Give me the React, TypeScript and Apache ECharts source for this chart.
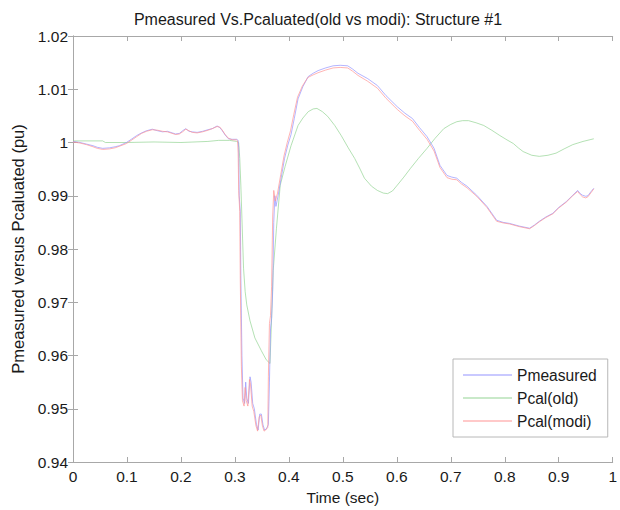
import React, { useEffect, useRef } from "react";
import * as echarts from "echarts";

const titleText = "Pmeasured Vs.Pcaluated(old vs modi): Structure #1";
const xName = "Time (sec)";
const yName = "Pmeasured versus Pcaluated (pu)";
const seriesNames = ["Pmeasured", "Pcal(old)", "Pcal(modi)"];
const seriesColors = ["#9494ff", "#94d494", "#ff9494"];

const measured: [number, number][] = [
  [0, 1.0002], [0.013, 1.0], [0.025, 0.9997], [0.037, 0.9994], [0.045, 0.9991], [0.055, 0.9989],
  [0.068, 0.999], [0.078, 0.9992], [0.086, 0.9994], [0.099, 1.0], [0.108, 1.0006], [0.118, 1.0013],
  [0.127, 1.0018], [0.136, 1.0022], [0.147, 1.0025], [0.157, 1.0022], [0.166, 1.002], [0.175, 1.0021],
  [0.19, 1.0016], [0.197, 1.0017], [0.203, 1.0022], [0.209, 1.0026], [0.215, 1.0021], [0.221, 1.002],
  [0.23, 1.0019], [0.24, 1.0021], [0.25, 1.0024], [0.258, 1.0026], [0.267, 1.0031], [0.272, 1.0028],
  [0.276, 1.0023], [0.282, 1.0014], [0.288, 1.0007], [0.295, 1.0006], [0.303, 1.0006], [0.306, 1.0004],
  [0.307, 0.999], [0.308, 0.99], [0.31, 0.987], [0.311, 0.975], [0.313, 0.96], [0.315, 0.952],
  [0.318, 0.951], [0.32, 0.955], [0.322, 0.952], [0.325, 0.951], [0.328, 0.956], [0.33, 0.955],
  [0.333, 0.951], [0.336, 0.95], [0.34, 0.947], [0.343, 0.946], [0.346, 0.949], [0.349, 0.949],
  [0.352, 0.947], [0.355, 0.946], [0.358, 0.9462], [0.362, 0.947], [0.364, 0.955], [0.366, 0.965],
  [0.368, 0.967], [0.37, 0.972], [0.372, 0.985], [0.374, 0.99], [0.376, 0.988], [0.38, 0.99],
  [0.386, 0.9935], [0.392, 0.997], [0.398, 0.9995], [0.404, 1.0015], [0.41, 1.0045], [0.417, 1.0082],
  [0.426, 1.0105], [0.436, 1.0124], [0.445, 1.013], [0.454, 1.0135], [0.468, 1.014], [0.482, 1.0144],
  [0.495, 1.0145], [0.509, 1.0144], [0.518, 1.0138], [0.528, 1.013], [0.546, 1.012], [0.564, 1.0107],
  [0.58, 1.0088], [0.595, 1.0073], [0.601, 1.0067], [0.615, 1.0055], [0.629, 1.0045], [0.642, 1.0028],
  [0.656, 1.0011], [0.669, 0.9989], [0.68, 0.9957], [0.693, 0.9938], [0.702, 0.9935], [0.711, 0.9933],
  [0.72, 0.9925], [0.73, 0.9918], [0.748, 0.9901], [0.767, 0.988], [0.785, 0.9854], [0.797, 0.985],
  [0.809, 0.9848], [0.827, 0.9843], [0.846, 0.9839], [0.855, 0.9845], [0.864, 0.9852], [0.876, 0.986],
  [0.889, 0.9867], [0.9, 0.9878], [0.914, 0.9889], [0.925, 0.99], [0.935, 0.991], [0.94, 0.9904],
  [0.944, 0.9901], [0.95, 0.9899], [0.954, 0.99], [0.96, 0.9908], [0.965, 0.9914],
];

const calOld: [number, number][] = [
  [0, 1.0003], [0.055, 1.0003], [0.06, 1.0], [0.1, 1.0], [0.15, 1.0001], [0.2, 1.0], [0.25, 1.0002],
  [0.27, 1.0004], [0.29, 1.0004], [0.303, 1.0002], [0.307, 1.0], [0.309, 0.997], [0.311, 0.992],
  [0.313, 0.9858], [0.316, 0.9764], [0.319, 0.972], [0.322, 0.9695], [0.328, 0.9665], [0.337, 0.9633],
  [0.349, 0.9609], [0.358, 0.9592], [0.365, 0.9585], [0.368, 0.967], [0.371, 0.976], [0.377, 0.9839],
  [0.384, 0.992], [0.393, 0.9955], [0.404, 0.9994], [0.417, 1.0032], [0.426, 1.0046], [0.436, 1.0058],
  [0.445, 1.0063], [0.452, 1.0064], [0.462, 1.0058], [0.472, 1.0049], [0.485, 1.0032], [0.497, 1.0013],
  [0.51, 0.999], [0.522, 0.997], [0.532, 0.995], [0.54, 0.9933], [0.553, 0.9918], [0.564, 0.991],
  [0.575, 0.9905], [0.583, 0.9904], [0.592, 0.9909], [0.601, 0.992], [0.613, 0.9935], [0.625, 0.9951],
  [0.64, 0.997], [0.656, 0.9989], [0.671, 1.0008], [0.687, 1.0026], [0.7, 1.0034], [0.711, 1.0039],
  [0.722, 1.0041], [0.733, 1.0041], [0.747, 1.0037], [0.761, 1.0032], [0.776, 1.0023], [0.791, 1.0013],
  [0.804, 1.0005], [0.816, 0.9998], [0.825, 0.999], [0.834, 0.9983], [0.85, 0.9976], [0.864, 0.9974],
  [0.88, 0.9976], [0.895, 0.998], [0.91, 0.9988], [0.926, 0.9996], [0.945, 1.0002], [0.965, 1.0007],
];

const calModi: [number, number][] = [
  [0, 1.0001], [0.013, 0.9999], [0.025, 0.9996], [0.037, 0.9992], [0.045, 0.9989], [0.055, 0.9987],
  [0.068, 0.9988], [0.078, 0.999], [0.086, 0.9993], [0.099, 0.9998], [0.108, 1.0004], [0.118, 1.0011],
  [0.127, 1.0017], [0.136, 1.0021], [0.147, 1.0024], [0.157, 1.0023], [0.166, 1.0021], [0.175, 1.002],
  [0.19, 1.0015], [0.197, 1.0016], [0.203, 1.002], [0.209, 1.0025], [0.215, 1.0022], [0.221, 1.0019],
  [0.23, 1.0018], [0.24, 1.002], [0.25, 1.0023], [0.258, 1.0026], [0.267, 1.003], [0.272, 1.0029],
  [0.276, 1.0024], [0.282, 1.0015], [0.288, 1.0008], [0.295, 1.0005], [0.303, 1.0005], [0.305, 1.0003],
  [0.306, 0.998], [0.307, 0.991], [0.309, 0.987], [0.31, 0.974], [0.312, 0.958], [0.314, 0.9515],
  [0.317, 0.9505], [0.319, 0.954], [0.321, 0.9515], [0.324, 0.9505], [0.327, 0.9555], [0.329, 0.9545],
  [0.332, 0.9505], [0.335, 0.9495], [0.339, 0.9468], [0.342, 0.9458], [0.345, 0.9485], [0.348, 0.9488],
  [0.351, 0.9468], [0.354, 0.9458], [0.357, 0.946], [0.361, 0.9465], [0.362, 0.956], [0.364, 0.966],
  [0.366, 0.9675], [0.368, 0.973], [0.37, 0.986], [0.372, 0.991], [0.375, 0.989], [0.379, 0.9905],
  [0.385, 0.994], [0.391, 0.9975], [0.397, 1.0], [0.403, 1.0022], [0.409, 1.0052], [0.416, 1.0085],
  [0.425, 1.0106], [0.435, 1.0122], [0.445, 1.0127], [0.454, 1.0131], [0.468, 1.0136], [0.482, 1.014],
  [0.495, 1.0141], [0.509, 1.014], [0.518, 1.0134], [0.528, 1.0126], [0.546, 1.0115], [0.564, 1.0102],
  [0.58, 1.0083], [0.595, 1.0068], [0.601, 1.0062], [0.615, 1.005], [0.629, 1.004], [0.642, 1.0023],
  [0.656, 1.0006], [0.669, 0.9984], [0.68, 0.9953], [0.693, 0.9934], [0.702, 0.9931], [0.711, 0.993],
  [0.72, 0.9922], [0.73, 0.9915], [0.748, 0.9899], [0.767, 0.9878], [0.785, 0.9852], [0.797, 0.9849],
  [0.809, 0.9847], [0.827, 0.9842], [0.846, 0.9838], [0.855, 0.9844], [0.864, 0.9851], [0.876, 0.9859],
  [0.889, 0.9866], [0.9, 0.9877], [0.914, 0.9888], [0.925, 0.9899], [0.935, 0.9908], [0.94, 0.9902],
  [0.944, 0.9898], [0.95, 0.9896], [0.954, 0.9898], [0.96, 0.9906], [0.965, 0.9913],
];

const xMin = 0, xMax = 1, xStep = 0.1;
const yMin = 0.94, yMax = 1.02, yStep = 0.01;

const FONT = "Liberation Sans, Arial, sans-serif";
const AXIS_GRAY = "#a8a8a8";
const TEXT = "#1a1a1a";

export default function App() {
  const ref = useRef<HTMLDivElement>(null);
  useEffect(() => {
    if (!ref.current) return;
    const chart = echarts.init(ref.current, undefined, { renderer: "svg" });
    const frameAxis = {
      axisLine: { show: true, lineStyle: { color: AXIS_GRAY, width: 1 } },
      axisTick: { show: true, inside: true, length: 5, lineStyle: { color: AXIS_GRAY } },
      splitLine: { show: false },
    };
    const dataSets = [measured, calOld, calModi];
    chart.setOption({
      animation: false,
      backgroundColor: "#ffffff",
      title: {
        text: titleText,
        left: 313,
        textAlign: "center",
        top: 6,
        textStyle: { fontFamily: FONT, fontSize: 16, fontWeight: "normal", color: TEXT },
      },
      grid: { left: 73, right: 3, top: 36, bottom: 47 },
      legend: {
        orient: "vertical",
        left: 453,
        top: 359,
        padding: [8, 11, 8, 10],
        itemGap: 7,
        itemWidth: 49,
        itemHeight: 1,
        icon: "rect",
        borderColor: "#b8b8b8",
        borderWidth: 1,
        borderRadius: 0,
        backgroundColor: "#ffffff",
        textStyle: { fontFamily: FONT, fontSize: 15.6, color: TEXT },
        data: seriesNames,
      },
      xAxis: [
        {
          type: "value",
          min: xMin,
          max: xMax,
          interval: xStep,
          position: "bottom",
          name: xName,
          nameLocation: "middle",
          nameGap: 27,
          nameTextStyle: { fontFamily: FONT, fontSize: 15.5, color: TEXT },
          axisLabel: { fontFamily: FONT, fontSize: 15.5, color: TEXT, margin: 6 },
          ...frameAxis,
        },
        {
          type: "value",
          min: xMin,
          max: xMax,
          interval: xStep,
          position: "top",
          axisLabel: { show: false },
          ...frameAxis,
        },
      ],
      yAxis: [
        {
          type: "value",
          min: yMin,
          max: yMax,
          interval: yStep,
          position: "left",
          name: yName,
          nameLocation: "middle",
          nameGap: 47,
          nameTextStyle: { fontFamily: FONT, fontSize: 16.5, color: TEXT },
          axisLabel: { fontFamily: FONT, fontSize: 15.5, color: TEXT, margin: 5 },
          ...frameAxis,
        },
        {
          type: "value",
          min: yMin,
          max: yMax,
          interval: yStep,
          position: "right",
          axisLabel: { show: false },
          ...frameAxis,
        },
      ],
      series: seriesNames.map((name, i) => ({
        name,
        type: "line",
        data: dataSets[i],
        showSymbol: false,
        symbol: "none",
        xAxisIndex: 0,
        yAxisIndex: 0,
        color: seriesColors[i],
        itemStyle: { color: seriesColors[i] },
        lineStyle: { width: 0.7, color: seriesColors[i] },
        z: i === 1 ? 2 : i === 0 ? 3 : 4,
      })),
    });
    return () => chart.dispose();
  }, []);
  return (
    <div
      ref={ref}
      style={{ position: "fixed", left: 0, top: 0, width: 620, height: 510, background: "#fff" }}
    />
  );
}
